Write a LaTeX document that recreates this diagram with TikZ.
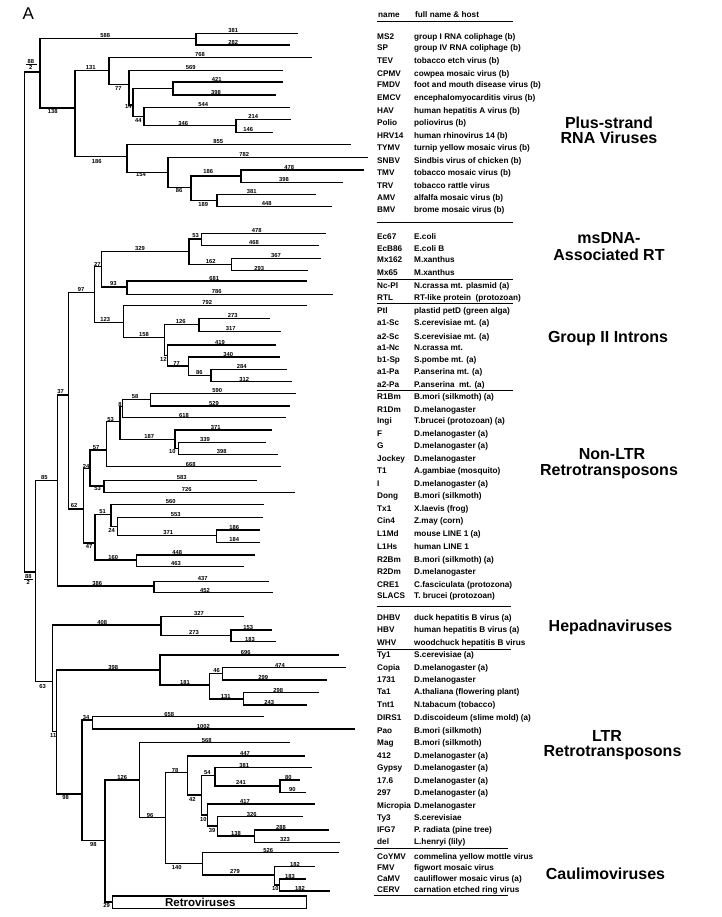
\documentclass[tikz,border=0pt]{standalone}
\usepackage{fontspec}
\setmainfont{Liberation Sans}
\newcommand\numfont{\fontsize{5.8}{6}\selectfont\bfseries}
\newcommand\lblfont{\fontsize{8.2}{9}\selectfont\bfseries}
\newcommand\ttlfont{\fontsize{16}{16}\selectfont\bfseries}
\begin{document}
\begin{tikzpicture}[x=1pt,y=-1pt,
  tree/.style={line width=1.3pt},
  rulel/.style={line width=0.9pt},
  bl/.style={font=\numfont, inner sep=0pt},
  lab/.style={font=\lblfont, inner sep=0pt, anchor=base west},
  ttl/.style={font=\ttlfont, inner sep=0pt, anchor=base}]
\fill[white] (0,0) rectangle (721,917);
\useasboundingbox (0,0) rectangle (721,917);

% ---------- tree coordinates ----------
\foreach \n/\x/\y in {root/24.5/322, P1/40/72, Q1/35.5/572,
 A1/196/38.3, tMS2/298/33.3, tSP/290/45, B1/75/108, C1/109/70.5, tTEV/312/57.3, E1/129/84.3, tCPMV/283/70.3, F1/133/105, G1/173/88.3, tFMDV/283/82, tEMCV/276/95, H1/144/116.7, tHAV/290/107.7, I1/236/125.7, tPolio/291/119.3, tHRV/273/132.7, D1/127/156.7, tTYMV/351/144.3, J1/168/172.7, tSNBV/368/157.3, K1/191/187.3, L1/241/176, tTMV/364/170, tTRV/343/182.3, M1/217/200.7, tAMV/316/194.3, tBMV/332/206.7,
 R1/57.7/480.7, S1/52.7/681.7, T1n/68.3/395, U1/154/586, tCRE/269/581.7, tSLACS/272.7/592.7, V1/94.3/292.3, W1/83.3/509, X1/101.7/266.7, Y1/123.7/322.3, Z1/189/251.7, AA/127/287, AB/201.7/239, AC/231.7/264.3, tEcA/326/233.3, tEcB/319/245.7, tMxa/320.7/258.3, tMxb/308/270.7, tNc/307/281, tRTL/333/294.3, tPtl/307/305.7, AD/164.3/337.3, AE/199/324.3, AF/167.7/355.5, tSca/270/318.3, tScb/281/331.7, tNca/275.7/345, AG/188.3/366, tSp/280/357, AH/211/375.7, tPaa/286.7/369.3, tPab/291.7/381.7,
 AI/90/468.3, AJ/95/543, AK/106.7/450, AL/104/486, tI/256.7/480.7, tDong/295/492.3, AM/120/421.7, tT1/281/466.7, AN/122.7/406.7, AO/175/439.3, AP/150.7/399.3, tIngi/285.7/417.7, tR1Bm/296/393.3, tR1Dm/290/406, tF/272.3/430, AQ/178.3/448.5, tG/265.7/442.3, tJockey/278.3/454.3, AR/111/514.3, AS/136.7/560, tTx1/264.3/504.3, AT/117.7/526.7, tCin/263.3/517.7, AU/216.7/535.7, tL1Md/260/530, tL1Hs/260/542.3, tR2Bm/255/555, tR2Dm/244.3/566.7,
 AV/161/625, AW/56.7/731.7, tDHBV/244.3/616.7, AX/231/635.8, tHBV/271.7/630, tWHV/275.7/641.7, AY/160/670, AZ/82/794, tTy1/339.3/655, BA/209.3/685, BB/222.7/673.5, BC/243.3/699, tCopia/346/667.7, t1731/326.7/680, tTa1/319/692.7, tTnt1/306.7/705, BD/92.7/720, BE/105/840.7, tDIRS/264.3/716.7, tPao/355/729, BF/139.3/780, tMag/290/742.7, BG/165.7/817.7, BH/187.3/772.7, BI/202.3/863.3, t412/305/756, BJ/201.7/795, BK/215/775.7, BL/207.3/815, tGypsy/311.7/767.7, BM/280/786, t176/300/780, t297/306/792.3, tMicro/315/804, BN/217.3/826, tTy3/303.3/816.7, BO/254.3/836, tIFG/329.3/830, tdel/340/842.3, tCoYMV/339.3/852.7, BP/274.3/875, tFMV/315/866.7, BQ/279.3/885, tCaMV/305.7/879, tCERV/330/891}
 {\coordinate (\n) at (\x,\y);}

% ---------- branches ----------
\foreach \a/\b in {root/P1, root/Q1, P1/A1, P1/B1, A1/tMS2, A1/tSP, B1/C1, B1/D1, C1/tTEV, C1/E1, E1/tCPMV, E1/F1, F1/G1, F1/H1, G1/tFMDV, G1/tEMCV, H1/tHAV, H1/I1, I1/tPolio, I1/tHRV, D1/tTYMV, D1/J1, J1/tSNBV, J1/K1, K1/L1, K1/M1, L1/tTMV, L1/tTRV, M1/tAMV, M1/tBMV,
 Q1/R1, Q1/S1, R1/T1n, R1/U1, U1/tCRE, U1/tSLACS, T1n/V1, T1n/W1, V1/X1, V1/Y1, X1/Z1, X1/AA, Z1/AB, Z1/AC, AB/tEcA, AB/tEcB, AC/tMxa, AC/tMxb, AA/tNc, AA/tRTL, Y1/tPtl, Y1/AD, AD/AE, AD/AF, AE/tSca, AE/tScb, AF/tNca, AF/AG, AG/tSp, AG/AH, AH/tPaa, AH/tPab,
 W1/AI, W1/AJ, AI/AK, AI/AL, AL/tI, AL/tDong, AK/AM, AK/tT1, AM/AN, AM/AO, AN/AP, AN/tIngi, AP/tR1Bm, AP/tR1Dm, AO/tF, AO/AQ, AQ/tG, AQ/tJockey, AJ/AR, AJ/AS, AR/tTx1, AR/AT, AT/tCin, AT/AU, AU/tL1Md, AU/tL1Hs, AS/tR2Bm, AS/tR2Dm,
 S1/AV, S1/AW, AV/tDHBV, AV/AX, AX/tHBV, AX/tWHV, AW/AY, AW/AZ, AY/tTy1, AY/BA, BA/BB, BA/BC, BB/tCopia, BB/t1731, BC/tTa1, BC/tTnt1, AZ/BD, AZ/BE, BD/tDIRS, BD/tPao, BE/BF, BF/tMag, BF/BG, BG/BH, BG/BI, BH/t412, BH/BJ, BJ/BK, BJ/BL, BK/tGypsy, BK/BM, BM/t176, BM/t297, BL/tMicro, BL/BN, BN/tTy3, BN/BO, BO/tIFG, BO/tdel, BI/tCoYMV, BI/BP, BP/tFMV, BP/BQ, BQ/tCaMV, BQ/tCERV}
 {\draw[tree] (\a) |- (\b);}

% Retroviruses box
\node[draw, line width=1.1pt, minimum width=194pt, minimum height=12.3pt, inner sep=0pt, anchor=west] (retro) at (111.7,902.1) {};
\node[font=\fontsize{11.5}{12}\selectfont\bfseries, inner sep=0pt] (retrot) at (200.3,902.3) {Retroviruses};
\draw[tree] (BE) |- (retro.west);

% ---------- branch-length labels ----------
\foreach \x/\y/\bt [count=\i] in {105.3/35.5/588, 233.3/30.7/381, 233.3/42.5/282, 200/54.7/768, 90.7/67.3/131, 190.7/67.3/569, 216.7/79.3/421, 216/92.3/398, 118.3/88.3/77, 128.3/106.7/14, 203.3/104.5/544, 253.3/116.7/214, 183.3/123.3/346, 248.3/129.5/146, 138.3/120.7/44, 52.7/111.7/138, 218.3/141.5/855, 244.3/154.5/782, 96.7/161.7/186, 141/175/154, 289.3/167.3/478, 284/179.7/398, 208.3/172/186, 179/190.7/86, 251.7/191.7/381, 266.7/204/448, 203.3/205/189,
 256.7/230.7/478, 254/243/468, 195.7/235.5/53, 140/249/329, 276/256/367, 210.7/261.5/162, 259.3/268.3/293, 97.3/264/27, 214.3/278.5/681, 113.3/284/93, 216.7/291.7/786, 81/289.5/97, 207.3/303/792, 232.7/315.7/273, 230.7/329/317, 180.7/321.7/126, 105.3/319.5/123, 144/334.5/158, 220/342.3/419, 228.3/354.3/340, 163.3/359.3/12, 176.7/363.3/77, 241.7/366.7/284, 199.3/373/86, 244.3/379.3/312,
 217.3/390.7/590, 214/403.3/529, 135/396.7/58, 184/415.2/618, 110.7/419.3/53, 120/405/8, 215.7/427.3/371, 205/439.7/339, 221.7/451.7/398, 149.3/436.5/187, 172.3/451.7/10, 190.7/464/668, 96/447.3/57, 86/466/24, 60.7/391.7/37, 181.7/477.7/583, 186.7/489.5/726, 97.7/489/53, 74/505.5/62, 170.7/501.5/560, 175.7/515/553, 234.3/527.3/186, 234.3/539.7/184, 168.3/533/371, 111.7/530.5/24, 102.7/511.5/51, 89/546/47, 177.3/552.3/448, 176/564/463, 113.3/557.3/160, 202.7/579/437, 205/590/452, 97.3/583.3/386, 44.3/477.7/85,
 199/614/327, 102.3/622.5/408, 248.3/627.3/153, 194/632.3/273, 250/639.3/183, 245.7/652.3/696, 280/665/474, 263.3/677.3/299, 216.7/670/46, 185/682.5/181, 278.3/690/298, 225.7/696.3/131, 269.3/702.7/243, 113.3/667.3/398, 42.7/686/63, 169.3/714/658, 203.3/726.3/1002, 86/717.7/34, 53.3/735.5/11,
 206.7/740/568, 245/753.3/447, 244.3/765/381, 241/782.5/241, 288.3/777.3/80, 292.3/789.7/90, 122.3/777.3/126, 175/770/78, 207.3/773/54, 65.7/797.7/98, 192.3/799/42, 245/801.7/417, 203.3/819/10, 150/815/96, 251.7/814/326, 212/830/39, 281/827.3/288, 236/833/138, 285/839.7/323, 93.3/844/98, 268.3/850/526, 295/864/182, 176.7/867.3/140, 235/871.3/279, 290/876.7/183, 275.3/888.3/10, 300/888.7/182, 106.7/905/29}
 {\node[bl] (b\i) at (\x,\y) {\bt};}

% root split annotations 88/2
\node[bl] (rA) at (30.8,61.7) {88};
\draw[line width=0.8pt] (25.5,64.4) -- (36.5,64.4);
\node[bl] (rB) at (30.8,67.8) {2};
\node[bl] (rC) at (28.3,576.2) {88};
\draw[line width=0.8pt] (24,579.2) -- (32.8,579.2);
\node[bl] (rD) at (28.3,582.8) {2};

% ---------- panel letter ----------
\node[font=\fontsize{17}{17}\selectfont, inner sep=0pt, anchor=base west] (panelA) at (22.3,19.3) {A};

% ---------- label table ----------
\node[lab] (hname) at (378,17.5) {name};
\node[lab] (hfull) at (415,17.5) {full name \& host};
\foreach \ya in {21, 222, 279.5, 303.5, 390.5}
 {\draw[rulel] (376.5,\ya) -- (513,\ya);}
\foreach \ya in {606.5, 649}
 {\draw[rulel] (376.5,\ya) -- (511,\ya);}
\foreach \ya in {848.5, 895.5}
 {\draw[rulel] (373.5,\ya) -- (508,\ya);}

\foreach \y/\sn/\fn [count=\i] in {36.3/MS2/group I RNA coliphage (b), 48/SP/group IV RNA coliphage (b), 60.3/TEV/tobacco etch virus (b), 73.3/CPMV/cowpea mosaic virus (b), 85/FMDV/foot and mouth disease virus (b), 98/EMCV/encephalomyocarditis virus (b), 110.7/HAV/human hepatitis A virus (b), 122.3/Polio/poliovirus (b), 135.7/HRV14/human rhinovirus 14 (b), 147.3/TYMV/turnip yellow mosaic virus (b), 160.3/SNBV/Sindbis virus of chicken (b), 173/TMV/tobacco mosaic virus (b), 185.3/TRV/tobacco rattle virus, 197.3/AMV/alfalfa mosaic virus (b), 209.7/BMV/brome mosaic virus (b),
 237/Ec67/E.coli, 249/EcB86/E.coli B, 260/Mx162/M.xanthus, 273/Mx65/M.xanthus, 286/Nc-Pl/N.crassa mt. plasmid (a), 298/RTL/RT-like protein~ (protozoan), 310.5/Ptl/plastid petD (green alga), 323/a1-Sc/S.cerevisiae mt. (a), 336.5/a2-Sc/S.cerevisiae mt. (a), 348/a1-Nc/N.crassa mt., 360/b1-Sp/S.pombe mt. (a), 372/a1-Pa/P.anserina mt. (a), 384.5/a2-Pa/P.anserina~ mt. (a),
 397/R1Bm/B.mori (silkmoth) (a), 409.5/R1Dm/D.melanogaster, 421/Ingi/T.brucei (protozoan) (a), 433.5/F/D.melanogaster (a), 446/G/D.melanogaster (a), 458.5/Jockey/D.melanogaster, 471/T1/A.gambiae (mosquito), 483.5/I/D.melanogaster (a), 496/Dong/B.mori (silkmoth), 508.3/Tx1/X.laevis (frog), 521/Cin4/Z.may (corn), 534/L1Md/mouse LINE 1 (a), 547/L1Hs/human LINE 1, 559.3/R2Bm/B.mori (silkmoth) (a), 571.7/R2Dm/D.melanogaster, 585/CRE1/C.fasciculata (protozona), 596/SLACS/T. brucei (protozoan),
 618/DHBV/duck hepatitis B virus (a), 630/HBV/human hepatitis B virus (a), 642.5/WHV/woodchuck hepatitis B virus,
 655/Ty1/S.cerevisiae (a), 667.5/Copia/D.melanogaster (a), 680/1731/D.melanogaster, 692/Ta1/A.thaliana (flowering plant), 704.5/Tnt1/N.tabacum (tobacco), 717.7/DIRS1/D.discoideum (slime mold) (a), 730.5/Pao/B.mori (silkmoth), 743/Mag/B.mori (silkmoth), 755.7/412/D.melanogaster (a), 767.5/Gypsy/D.melanogaster (a), 781/17.6/D.melanogaster (a), 792.5/297/D.melanogaster (a), 805.5/Micropia/D.melanogaster, 817.7/Ty3/S.cerevisiae, 830/IFG7/P. radiata (pine tree), 841.5/del/L.henryi (lily),
 856.5/CoYMV/commelina yellow mottle virus, 867.5/FMV/figwort mosaic virus, 878.5/CaMV/cauliflower mosaic virus (a), 890/CERV/carnation etched ring virus}
 {\node[lab] (s\i) at (377,\y+2.9) {\sn};
  \node[lab] (f\i) at (414,\y+2.9) {\fn};}

% ---------- group titles ----------
\node[ttl] (g1a) at (609,128.5) {Plus-strand};
\node[ttl] (g1b) at (609,143.3) {RNA Viruses};
\node[ttl] (g2a) at (609,243.5) {msDNA-};
\node[ttl] (g2b) at (609,260) {Associated RT};
\node[ttl] (g3) at (608,342.5) {Group II Introns};
\node[ttl] (g4a) at (612,459) {Non-LTR};
\node[ttl] (g4b) at (609,475.5) {Retrotransposons};
\node[ttl] (g5) at (610.5,631) {Hepadnaviruses};
\node[ttl] (g6a) at (607,741) {LTR};
\node[ttl] (g6b) at (612.5,756.5) {Retrotransposons};
\node[ttl] (g7) at (605.5,879) {Caulimoviruses};
\end{tikzpicture}
\end{document}
